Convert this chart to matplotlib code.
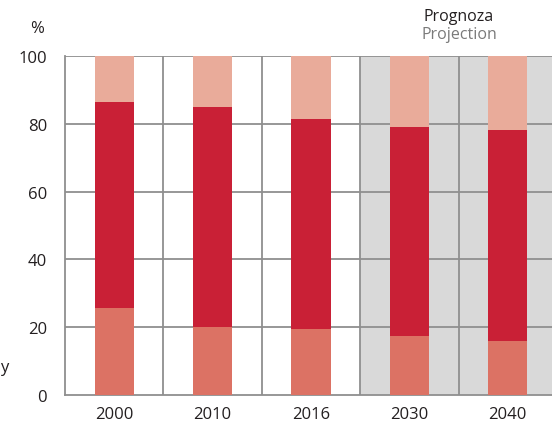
import matplotlib.pyplot as plt
import numpy as np

plt.rcParams['font.family'] = ['Open Sans', 'DejaVu Sans']

years = ['2000', '2010', '2016', '2030', '2040']
bottom_share = [25.7, 20.0, 19.5, 17.3, 15.9]
middle_share = [60.8, 65.0, 61.8, 61.7, 62.3]
top_share = [13.5, 15.0, 18.7, 21.0, 21.8]

c_bottom = '#dc7264'
c_middle = '#c92036'
c_top = '#e9ab9a'
grid_c = '#8f8f8f'

fig = plt.figure(figsize=(5.52, 4.31), dpi=100)
ax = fig.add_axes([65 / 552, 35 / 431, 492 / 552, 339 / 431])

x = np.arange(len(years))
# projection zone
ax.axvspan(2.5, 4.5, color='#d9d9d9', zorder=0)

for yv in [20, 40, 60, 80, 100]:
    ax.axhline(yv, color=grid_c, lw=1.3, zorder=1)
for xv in [0.5, 1.5, 2.5, 3.5]:
    ax.axvline(xv, color=grid_c, lw=1.3, zorder=1)

b1 = np.array(bottom_share)
b2 = b1 + np.array(middle_share)
ax.bar(x, bottom_share, width=0.40, color=c_bottom, zorder=3)
ax.bar(x, middle_share, width=0.40, bottom=b1, color=c_middle, zorder=3)
ax.bar(x, top_share, width=0.40, bottom=b2, color=c_top, zorder=3)

ax.set_xlim(-0.5, 4.5)
ax.set_ylim(0, 100)
ax.set_xticks(x)
ax.set_xticklabels(years)
ax.set_yticks([0, 20, 40, 60, 80, 100])
ax.tick_params(length=0, labelsize=12, colors='#231f20')
ax.tick_params(axis='y', pad=13)
ax.tick_params(axis='x', pad=8)
for s in ['left', 'bottom']:
    ax.spines[s].set_color(grid_c)
    ax.spines[s].set_linewidth(1.3)
for s in ['top', 'right']:
    ax.spines[s].set_visible(False)

fig.text(37 / 552, 1 - 29 / 431, '%', fontsize=12, color='#231f20', ha='center', va='center')
fig.text(459 / 552, 1 - 17 / 431, 'Prognoza', fontsize=11.5, color='#231f20', ha='center', va='center')
fig.text(459 / 552, 1 - 35 / 431, 'Projection', fontsize=11.5, color='#7a7a7a', ha='center', va='center')
fig.text(0, 1 - 368 / 431, 'y', fontsize=12, color='#231f20', ha='left', va='center')

fig.savefig('out.png', dpi=100)
